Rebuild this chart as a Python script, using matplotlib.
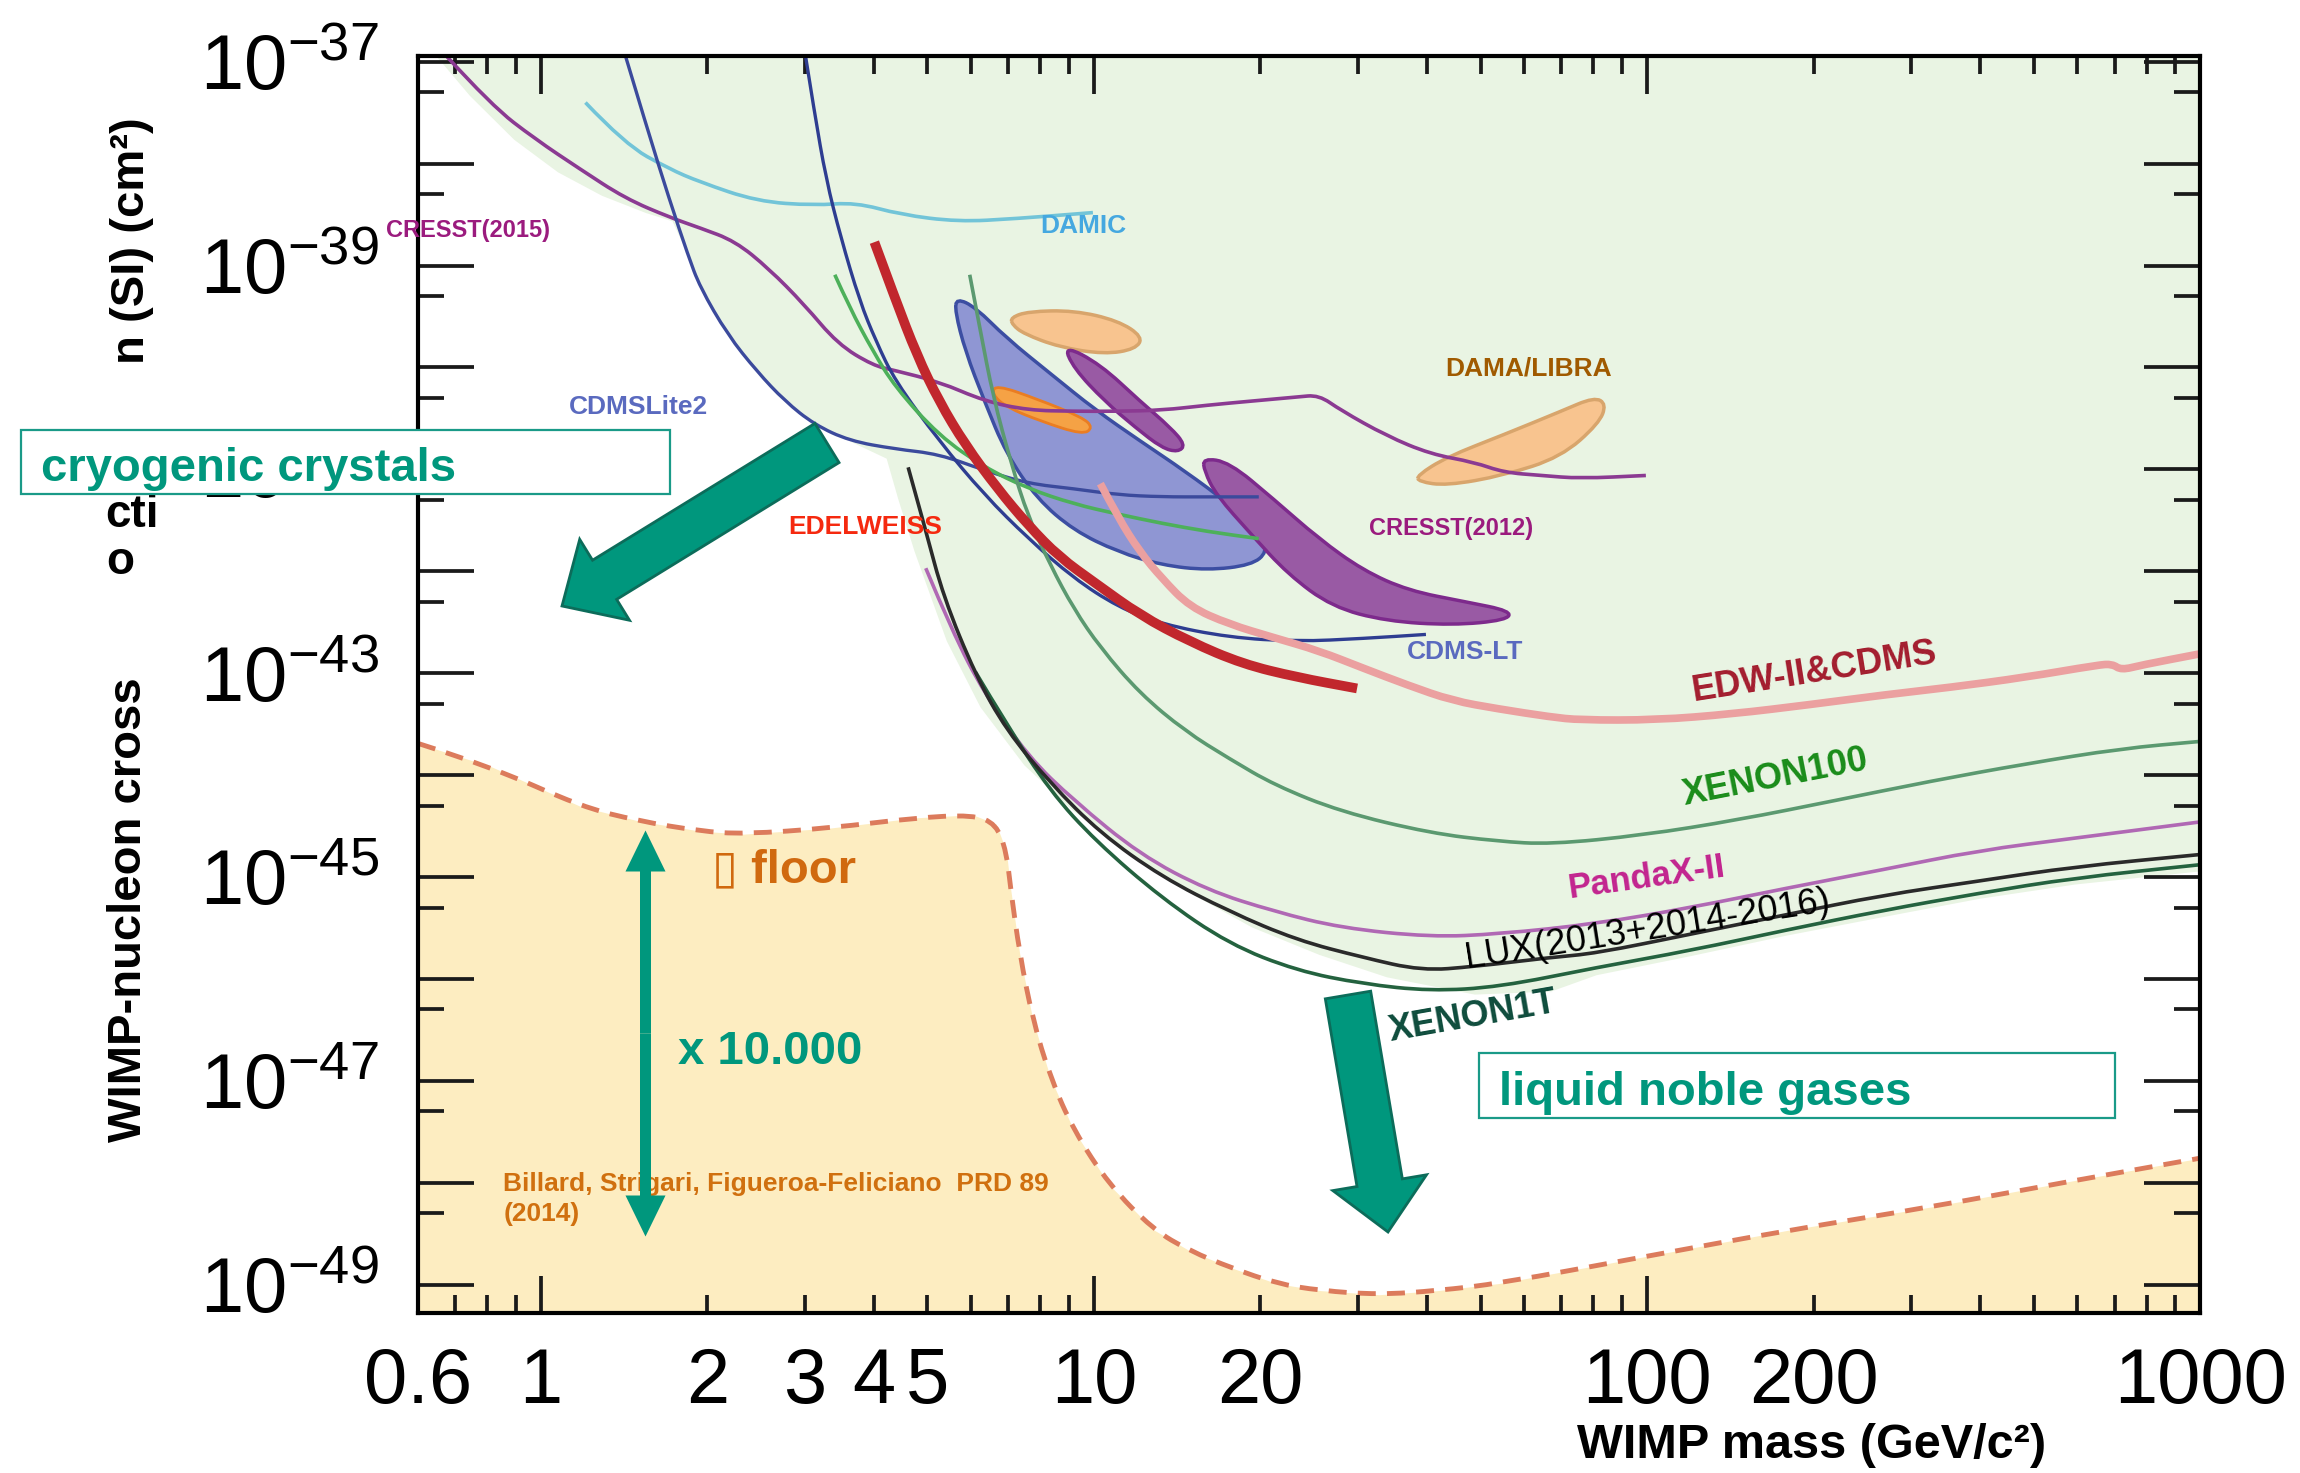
import numpy as np
import matplotlib
matplotlib.use('Agg')
import matplotlib.pyplot as plt
from matplotlib.patches import FancyArrow, Rectangle, PathPatch
from matplotlib.path import Path
from matplotlib.ticker import FixedLocator, FuncFormatter

plt.rcParams['font.family'] = ['Liberation Sans', 'DejaVu Sans']
plt.rcParams['mathtext.fontset'] = 'custom'
plt.rcParams['mathtext.rm'] = 'Liberation Sans'
plt.rcParams['mathtext.it'] = 'Liberation Sans:italic'
plt.rcParams['mathtext.bf'] = 'Liberation Sans:bold'

# ---- data: WIMP mass (GeV) and log10 of cross section (cm^2) ----
cresst2015_m = [0.674, 0.815, 0.978, 1.175, 1.42, 1.716, 1.939, 2.245, 2.583, 2.991, 3.442, 3.985,
                4.367, 5.246, 6.337, 7.61, 9.198, 11.05, 13.27, 16.03, 19.26, 23.27, 25.5, 27.95,
                33.78, 40.57, 48.72, 55.04, 64.51, 75.59, 99.5]
cresst2015_lg = [-36.94, -37.43, -37.76, -38.05, -38.34, -38.53, -38.63, -38.76, -39.03, -39.38, -39.77, -39.98,
                 -40.03, -40.14, -40.33, -40.42, -40.43, -40.43, -40.42, -40.37, -40.33, -40.29, -40.27, -40.42,
                 -40.67, -40.85, -40.93, -41.03, -41.06, -41.09, -41.06]

damic_m = [1.204, 1.42, 1.705, 1.939, 2.46, 3.122, 3.704, 4.476, 5.678, 7.204, 9.957]
damic_lg = [-37.40, -37.81, -38.05, -38.18, -38.37, -38.41, -38.38, -38.50, -38.57, -38.54, -38.48]

cdmslite_m = [1.42, 1.556, 1.705, 1.846, 1.939, 2.177, 2.46, 2.762, 3.122, 3.614, 4.367, 5.246,
              6.337, 7.61, 9.198, 11.05, 13.27, 16.03, 19.86]
cdmslite_lg = [-36.93, -37.65, -38.34, -38.90, -39.21, -39.68, -40.04, -40.33, -40.56, -40.72, -40.80, -40.85,
               -41.01, -41.14, -41.19, -41.25, -41.27, -41.27, -41.27]

cdmslt_m = [3.009, 3.122, 3.278, 3.484, 3.772, 4.034, 4.367, 5.246, 6.337, 7.61, 9.198, 11.05,
            13.27, 17.57, 23.27, 30.64, 39.83]
cdmslt_lg = [-36.94, -37.49, -38.15, -38.72, -39.35, -39.74, -40.13, -40.72, -41.25, -41.68, -42.07, -42.35,
             -42.52, -42.65, -42.69, -42.66, -42.62]

edelweiss_m = [4.009, 4.367, 4.786, 5.246, 5.853, 6.695, 7.61, 8.652, 10.08, 12.11, 14.9, 18.57, 23.27, 29.9]
edelweiss_lg = [-38.77, -39.32, -39.88, -40.33, -40.76, -41.19, -41.55, -41.86, -42.12, -42.43, -42.69,
                -42.91, -43.04, -43.15]

lightgreen_m = [3.4, 3.614, 3.985, 4.367, 5.246, 6.337, 7.61, 9.198, 11.05, 13.27, 16.03, 19.86]
lightgreen_lg = [-39.09, -39.41, -39.84, -40.19, -40.67, -40.98, -41.19, -41.34, -41.44, -41.53, -41.61, -41.68]

xenon100_m = [5.962, 6.222, 6.574, 7.074, 7.61, 8.34, 9.198, 10.27, 12.11, 14.63, 17.57, 21.23, 27.95,
              40.57, 53.72, 66.92, 98.3, 146.2, 218.8, 325.5, 484.0, 719.6, 1000]
xenon100_lg = [-39.09, -39.62, -40.29, -40.93, -41.47, -41.94, -42.37, -42.75, -43.20, -43.57, -43.84, -44.10,
               -44.36, -44.57, -44.65, -44.68, -44.59, -44.44, -44.25, -44.06, -43.89, -43.74, -43.67]

edwcdms_m = [10.27, 11.05, 12.11, 13.27, 14.9, 17.57, 21.11, 25.5, 30.64, 37.02, 44.46, 53.72, 66.92,
             75.59, 103.9, 142.8, 196.2, 271.2, 352.5, 484.0, 652.8, 693.8, 719.6, 784.2, 1000]
edwcdms_lg = [-41.14, -41.47, -41.81, -42.07, -42.35, -42.52, -42.65, -42.78, -42.95, -43.12, -43.27, -43.35,
              -43.43, -43.46, -43.46, -43.40, -43.31, -43.21, -43.14, -43.04, -42.92, -42.91, -42.97, -42.92,
              -42.81]

pandax_m = [4.965, 5.542, 6.337, 7.61, 9.198, 12.11, 16.03, 21.23, 27.95, 40.57, 54.05, 80.84, 120.3,
            178.8, 266.1, 398.1, 592.0, 1000]
pandax_lg = [-41.97, -42.59, -43.20, -43.82, -44.25, -44.78, -45.13, -45.34, -45.50, -45.59, -45.56, -45.46,
             -45.30, -45.11, -44.93, -44.74, -44.62, -44.46]

lux_m = [4.614, 4.965, 5.343, 6.109, 6.945, 8.34, 10.27, 13.27, 17.57, 23.27, 30.64, 39.1, 48.72, 66.92,
         80.84, 120.3, 178.8, 266.1, 398.1, 592.0, 1000]
lux_lg = [-40.98, -41.60, -42.25, -43.02, -43.56, -44.08, -44.57, -45.00, -45.34, -45.62, -45.79, -45.92,
          -45.88, -45.79, -45.75, -45.56, -45.37, -45.18, -45.04, -44.90, -44.78]

xenon1t_m = [6.109, 6.945, 8.34, 10.08, 13.27, 17.57, 23.27, 30.64, 40.57, 54.05, 80.84, 120.3, 178.8,
             266.1, 398.1, 592.0, 1000]
xenon1t_lg = [-42.99, -43.50, -44.16, -44.65, -45.21, -45.66, -45.92, -46.05, -46.12, -46.08, -45.89,
              -45.72, -45.52, -45.33, -45.16, -45.01, -44.88]

floor_m = [0.6, 0.815, 1.182, 1.5, 1.939, 2.328, 3.338, 4.756, 6.035, 6.655, 6.945, 7.074, 7.338, 7.751,
           8.34, 9.198, 10.65, 12.79, 14.9, 17.79, 21.37, 25.66, 32.77, 41.82, 54.05, 98.3, 178.8, 325.5,
           592.0, 1000]
floor_lg = [-43.69, -43.92, -44.31, -44.45, -44.55, -44.58, -44.52, -44.42, -44.39, -44.48, -44.75, -45.13,
            -45.75, -46.40, -46.97, -47.49, -48.02, -48.46, -48.67, -48.84, -48.99, -49.06, -49.10, -49.06,
            -48.99, -48.73, -48.47, -48.24, -47.98, -47.76]

# lower edge of the shaded (excluded) region
excl_m = [0.646, 0.743, 0.893, 1.072, 1.287, 1.547, 1.726, 1.846, 1.939, 2.177, 2.46, 2.762, 3.122, 3.614,
          4.21, 4.42, 4.728, 5.407, 6.222, 7.47, 9.085, 11.05, 14.63, 19.26, 25.5, 33.78, 48.72, 66.92,
          80.84, 120.3, 178.8, 266.1, 398.1, 592.0, 1000]
excl_lg = [-36.94, -37.33, -37.76, -38.08, -38.31, -38.48, -38.56, -38.90, -39.21, -39.68, -40.04, -40.33,
           -40.56, -40.72, -40.89, -41.29, -41.80, -42.68, -43.33, -43.90, -44.33, -44.69, -45.13, -45.49,
           -45.76, -45.98, -46.15, -46.12, -45.96, -45.77, -45.57, -45.39, -45.21, -45.07, -44.94]

# signal regions (closed outlines)
cogent_m = [5.644, 6.109, 6.945, 8.34, 10.08, 12.11, 14.63, 17.57, 19.98, 20.6, 19.26, 16.03, 13.27,
            11.05, 9.198, 7.894, 6.945, 6.337, 5.853, 5.61]
cogent_lg = [-39.32, -39.41, -39.71, -40.06, -40.42, -40.72, -41.02, -41.34, -41.64, -41.81, -41.94,
             -41.99, -41.94, -41.81, -41.60, -41.29, -40.85, -40.33, -39.84, -39.45]
orange_m = [6.655, 7.894, 9.541, 9.957, 9.541, 8.04, 6.945, 6.535]
orange_lg = [-40.17, -40.31, -40.49, -40.59, -40.66, -40.53, -40.39, -40.26]
dama_na_m = [7.074, 7.61, 9.198, 11.05, 12.26, 11.89, 10.45, 8.652, 7.47, 7.117]
dama_na_lg = [-39.51, -39.45, -39.44, -39.54, -39.70, -39.82, -39.87, -39.80, -39.67, -39.58]
cresst_small_m = [8.812, 10.27, 12.11, 13.76, 14.63, 14.19, 13.27, 11.89, 10.45, 9.198]
cresst_small_lg = [-39.78, -39.97, -40.33, -40.59, -40.76, -40.83, -40.79, -40.59, -40.33, -40.01]
cresst2012_m = [15.74, 17.57, 21.11, 25.5, 30.64, 37.02, 46.97, 56.75, 55.72, 44.46, 33.78, 26.95,
                22.43, 19.26, 16.63, 15.84]
cresst2012_lg = [-40.89, -40.93, -41.29, -41.68, -41.99, -42.19, -42.30, -42.39, -42.48, -42.53, -42.49,
                 -42.35, -42.03, -41.64, -41.25, -41.02]
dama_m = [38.4, 43.38, 55.04, 69.85, 80.35, 84.4, 81.85, 69.85, 55.04, 43.38, 38.62]
dama_lg = [-41.06, -40.88, -40.66, -40.43, -40.29, -40.36, -40.55, -40.88, -41.06, -41.16, -41.12]

x_major = [1, 10, 100, 1000]
x_minor = [0.6, 0.7, 0.8, 0.9, 2, 3, 4, 5, 6, 7, 8, 9, 20, 30, 40, 50, 60, 70, 80, 90,
           200, 300, 400, 500, 600, 700, 800, 900]
x_labelled = [0.6, 1, 2, 3, 4, 5, 10, 20, 100, 200, 1000]
y_decades = list(range(-49, -36))
y_labelled = [-49, -47, -45, -43, -41, -39, -37]

teal = '#00977d'
teal_dark = '#0c6c5a'


def p(v):
    return 10.0 ** np.array(v)


def smooth_path(m, lg, closed=False):
    # quadratic bezier through the mid points (in log space), read points are control points
    lx = np.log10(m)
    ly = np.array(lg, dtype=float)
    if closed:
        mx = (lx + np.roll(lx, -1)) / 2
        my = (ly + np.roll(ly, -1)) / 2
        verts = [(mx[-1], my[-1])]
        codes = [Path.MOVETO]
        for i in range(len(lx)):
            verts += [(lx[i], ly[i]), (mx[i], my[i])]
            codes += [Path.CURVE3, Path.CURVE3]
    else:
        verts = [(lx[0], ly[0])]
        codes = [Path.MOVETO]
        for i in range(1, len(lx) - 1):
            verts += [(lx[i], ly[i]), ((lx[i] + lx[i + 1]) / 2, (ly[i] + ly[i + 1]) / 2)]
            codes += [Path.CURVE3, Path.CURVE3]
        verts.append((lx[-1], ly[-1]))
        codes.append(Path.LINETO)
    return Path(10.0 ** np.array(verts), codes)


def region(m, lg, fc, ec, lw=2.5, z=2):
    ax.add_patch(PathPatch(smooth_path(m, lg, closed=True), fc=fc, ec=ec, lw=lw, zorder=z))


def curve(m, lg, color, lw=2.6, z=3, **kw):
    ax.add_patch(PathPatch(smooth_path(m, lg), fill=False, ec=color, lw=lw, zorder=z,
                           capstyle='butt', joinstyle='round', **kw))


fig = plt.figure(figsize=(23, 14.73), dpi=100)
ax = fig.add_axes([0.1818, 0.1086, 0.7748, 0.8536])
ax.set_xscale('log')
ax.set_yscale('log')
ax.set_xlim(0.6, 1000)
ax.set_ylim(10 ** -49.28, 10 ** -36.94)

# shaded areas
ax.fill_between(excl_m, p(excl_lg), 1e-36, color='#e9f4e3', lw=0, zorder=0.3)
ax.fill_between(floor_m, p(floor_lg), 1e-51, color='#fdedc1', lw=0, zorder=0.4)
curve(floor_m, floor_lg, '#dc7b5c', lw=3.5, z=1, linestyle=(0, (3.7, 2.3)))

# regions
region(cogent_m, cogent_lg, '#8f96d3', '#3c4ea2')
region(orange_m, orange_lg, '#f5a245', '#ea7d22', lw=2, z=2.1)
region(dama_na_m, dama_na_lg, '#f8c48f', '#d8a56c')
region(cresst_small_m, cresst_small_lg, '#995aa4', '#7d2a8c')
region(cresst2012_m, cresst2012_lg, '#995aa4', '#7d2a8c')
region(dama_m, dama_lg, '#f8c48f', '#d8a56c')

# limit curves
curve(damic_m, damic_lg, '#72c4d8')
curve(cresst2015_m, cresst2015_lg, '#8b3a92')
curve(cdmslite_m, cdmslite_lg, '#3b4a9c', lw=2.4)
curve(cdmslt_m, cdmslt_lg, '#2e3d91', lw=2.4)
curve(lightgreen_m, lightgreen_lg, '#4db05a')
curve(edelweiss_m, edelweiss_lg, '#c1272d', lw=7, z=3.2)
curve(xenon100_m, xenon100_lg, '#5b9970')
curve(edwcdms_m, edwcdms_lg, '#eba0a0', lw=5.5, z=3.1)
curve(pandax_m, pandax_lg, '#b068b4')
curve(xenon1t_m, xenon1t_lg, '#24623f')
curve(lux_m, lux_lg, '#2a2a2a', z=3.1)

# axes styling
for s in ax.spines.values():
    s.set_linewidth(3)
    s.set_zorder(4)
ax.xaxis.set_major_locator(FixedLocator(x_major))
ax.xaxis.set_minor_locator(FixedLocator(x_minor))
fmt_x = FuncFormatter(lambda v, pos: ('%g' % v) if any(abs(v - q) < 1e-9 for q in x_labelled) else '')
ax.xaxis.set_major_formatter(fmt_x)
ax.xaxis.set_minor_formatter(fmt_x)
ax.yaxis.set_major_locator(FixedLocator([10.0 ** d for d in y_decades]))
ax.yaxis.set_minor_locator(FixedLocator([5 * 10.0 ** d for d in y_decades]))
ax.yaxis.set_major_formatter(FuncFormatter(
    lambda v, pos: (r'$\mathregular{10^{%d}}$' % round(np.log10(v))) if round(np.log10(v)) in y_labelled else ''))
ax.yaxis.set_minor_formatter(FuncFormatter(lambda v, pos: ''))
ax.tick_params(which='both', direction='in', top=True, right=True, colors='#1a1a1a', labelcolor='black')
ax.tick_params(axis='x', which='major', length=27, width=2.7, labelsize=56, pad=24)
ax.tick_params(axis='x', which='minor', length=13, width=2.7, labelsize=56, pad=24)
ax.tick_params(axis='y', which='major', length=40, width=2.7, labelsize=56, pad=28)
ax.tick_params(axis='y', which='minor', length=19, width=2.7)

# curve labels
lab = dict(fontweight='bold', zorder=5, va='center')
ax.text(1.126, 10 ** -40.39, 'CDMSLite2', color='#5a6abf', fontsize=19, ha='left', **lab)
ax.text(7.99, 10 ** -38.61, 'DAMIC', color='#45a8e0', fontsize=19, ha='left', **lab)
ax.text(2.797, 10 ** -41.57, 'EDELWEISS', color='#f5290f', fontsize=19, ha='left', **lab)
ax.text(43.1, 10 ** -40.01, 'DAMA/LIBRA', color='#a05a00', fontsize=19, ha='left', **lab)
ax.text(31.4, 10 ** -41.58, 'CRESST(2012)', color='#9b1b7e', fontsize=17, ha='left', **lab)
ax.text(36.8, 10 ** -42.79, 'CDMS-LT', color='#5a6abf', fontsize=19, ha='left', **lab)
rot = dict(fontweight='bold', zorder=5, ha='center', va='center', rotation_mode='anchor')
ax.text(200.8, 10 ** -42.99, 'EDW-II&CDMS', color='#a31d2e', fontsize=26, rotation=9, **rot)
ax.text(170.3, 10 ** -44.03, 'XENON100', color='#1a8c1a', fontsize=26, rotation=11, **rot)
ax.text(100, 10 ** -45.01, 'PandaX-II', color='#c2248f', fontsize=25, rotation=8, **rot)
ax.text(100, 10 ** -45.52, 'LUX(2013+2014-2016)', color='black', fontsize=26, rotation=9,
        zorder=5, ha='center', va='center', rotation_mode='anchor')
ax.text(48.4, 10 ** -46.37, 'XENON1T', color='#0e4c3c', fontsize=26, rotation=10, **rot)

ax.text(2.036, 10 ** -44.94, '\u25AF floor', color='#d0690f', fontsize=34, fontweight='bold',
        ha='left', va='center', zorder=5)
ax.text(1.769, 10 ** -46.72, 'x 10.000', color=teal, fontsize=34, fontweight='bold',
        ha='left', va='center', zorder=5)
ax.text(0.855, 10 ** -48.16, 'Billard, Strigari, Figueroa-Feliciano  PRD 89\n(2014)', color='#d0700f',
        fontsize=19, fontweight='bold', ha='left', va='center', linespacing=1.35, zorder=5)

# texts outside the axes
fig.text(0.1677, 0.8436, 'CRESST(2015)', color='#9b1b7e', fontsize=17, fontweight='bold',
         ha='left', va='center')
fig.text(0.7876, 0.0189, 'WIMP mass (GeV/c\u00b2)', fontsize=35, fontweight='bold', ha='center', va='center')
fig.text(0.0561, 0.3825, 'WIMP-nucleon cross', fontsize=34, fontweight='bold', rotation=90,
         ha='center', va='center')
fig.text(0.0574, 0.8367, 'n (SI) (cm\u00b2)', fontsize=34, fontweight='bold', rotation=90,
         ha='center', va='center')
fig.text(0.0574, 0.6504, 'cti', fontsize=33, fontweight='bold', ha='center', va='center')
fig.text(0.0523, 0.6185, 'o', fontsize=33, fontweight='bold', ha='center', va='center')

# boxes
fig.add_artist(Rectangle((0.00893, 0.6643), 0.2825, 0.0438, transform=fig.transFigure,
                         fc='white', ec='#1a9a88', lw=1.6, zorder=4))
fig.text(0.0179, 0.6813, 'cryogenic crystals', color=teal, fontsize=34, fontweight='bold',
         ha='left', va='center', zorder=5)
fig.add_artist(Rectangle((0.6429, 0.2410), 0.2768, 0.0438, transform=fig.transFigure,
                         fc='white', ec='#1a9a88', lw=1.6, zorder=4))
fig.text(0.6518, 0.2580, 'liquid noble gases', color=teal, fontsize=34, fontweight='bold',
         ha='left', va='center', zorder=5)

# arrows (inches on the figure)
tr = fig.dpi_scale_trans
fig.add_artist(FancyArrow(8.27, 10.30, -2.65, -1.63, width=0.46, head_width=0.95, head_length=0.5,
                          length_includes_head=True, fc=teal, ec=teal_dark, lw=2, transform=tr, zorder=6))
fig.add_artist(FancyArrow(13.48, 4.78, 0.40, -2.37, width=0.46, head_width=0.95, head_length=0.5,
                          length_includes_head=True, fc=teal, ec=teal_dark, lw=2, transform=tr, zorder=6))
for dy in (2.03, -2.03):
    fig.add_artist(FancyArrow(6.455, 4.395, 0, dy, width=0.11, head_width=0.40, head_length=0.41,
                              length_includes_head=True, fc=teal, ec=teal, lw=0, transform=tr, zorder=6))

fig.savefig('out.png', dpi=100)
